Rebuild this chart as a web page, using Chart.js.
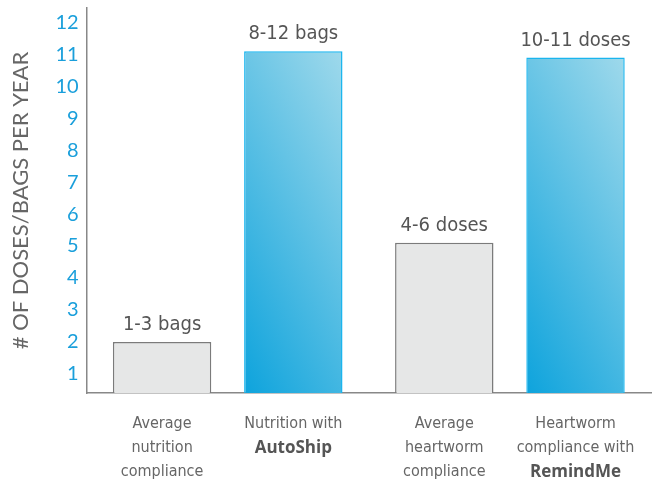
<!DOCTYPE html>
<html>
<head>
<meta charset="utf-8">
<script src="https://cdn.jsdelivr.net/npm/chart.js@4/dist/chart.umd.min.js"></script>
<style>
  html, body { margin: 0; padding: 0; background: #fff; }
  #wrap { width: 653px; height: 479px; }
</style>
</head>
<body>
<div id="wrap"><canvas id="chart"></canvas></div>
<script>
// Chart data
const groups = ['Nutrition', 'Heartworm'];
const averageValues = [2, 5.1];
const programValues = [11.1, 10.9];
const averageNotes = ['1-3 bags', '4-6 doses'];
const programNotes = ['8-12 bags', '10-11 doses'];
const averageCaptions = [['Average', 'nutrition', 'compliance'], ['Average', 'heartworm', 'compliance']];
const programCaptions = [['Nutrition with', 'AutoShip'], ['Heartworm', 'compliance with', 'RemindMe']];
const yTicks = [1, 2, 3, 4, 5, 6, 7, 8, 9, 10, 11, 12];

const narrow = '"Liberation Sans Narrow", "DejaVu Sans Condensed", sans-serif';

// Blue bars get a diagonal gradient of their own
const gradientBars = {
    id: 'gradientBars',
    beforeDatasetsDraw(chart) {
        const ctx = chart.ctx;
        chart.getDatasetMeta(1).data.forEach(bar => {
            const p = bar.getProps(['x', 'y', 'base', 'width'], true);
            const h = p.base - p.y;
            const a = 0.35 / p.width, b = 0.65 / h;
            const n = a * a + b * b;
            const left = p.x - p.width / 2;
            const g = ctx.createLinearGradient(left, p.base, left + a / n, p.base - b / n);
            g.addColorStop(0, '#0aa2dc');
            g.addColorStop(1, '#9fd9eb');
            bar.options.backgroundColor = g;
        });
    }
};

// Value notes above bars and captions below
const barText = {
    id: 'barText',
    afterDraw(chart) {
        const ctx = chart.ctx;
        ctx.save();
        ctx.textAlign = 'center';
        [[averageNotes, averageCaptions], [programNotes, programCaptions]].forEach(([notes, captions], di) => {
            chart.getDatasetMeta(di).data.forEach((bar, i) => {
                ctx.fillStyle = '#555';
                ctx.textBaseline = 'alphabetic';
                ctx.font = '20px ' + narrow;
                ctx.fillText(notes[i], bar.x, bar.y - 12);

                ctx.textBaseline = 'middle';
                const lines = captions[i];
                lines.forEach((line, li) => {
                    const bold = di === 1 && li === lines.length - 1;
                    ctx.font = bold ? 'bold 17px "Open Sans", sans-serif' : '16px ' + narrow;
                    ctx.fillStyle = bold ? '#555' : '#666';
                    ctx.fillText(line, bar.x, chart.chartArea.bottom + 31 + li * 24);
                });
            });
        });
        ctx.restore();
    }
};

const ctx = document.getElementById('chart').getContext('2d');
new Chart(ctx, {
    type: 'bar',
    data: {
        labels: groups,
        datasets: [{
            label: 'Average compliance',
            data: averageValues,
            backgroundColor: '#e6e7e7',
            borderColor: '#7b7b7b',
            borderWidth: 1.5
        }, {
            label: 'With program',
            data: programValues,
            // scriptable so each bar keeps its own options object
            backgroundColor: () => '#4ab4e2',
            borderColor: '#1ab5ee',
            borderWidth: 1.5
        }]
    },
    options: {
        responsive: true,
        maintainAspectRatio: false,
        animation: false,
        categoryPercentage: 0.93,
        barPercentage: 0.75,
        layout: { padding: { top: 8, bottom: 86, left: 8, right: 2 } },
        plugins: {
            legend: { display: false },
            tooltip: { enabled: false }
        },
        scales: {
            x: {
                grid: { display: false, drawTicks: false },
                border: { color: '#888', width: 1.5 },
                ticks: { display: false }
            },
            y: {
                min: 0.4,
                max: 12.45,
                afterBuildTicks: axis => { axis.ticks = yTicks.map(v => ({ value: v })); },
                afterFit: axis => { axis.paddingTop = 0; axis.paddingBottom = 0; },
                grid: { display: false, drawTicks: false },
                border: { color: '#888', width: 1.5 },
                ticks: {
                    color: '#1a9fdb',
                    padding: 8,
                    font: { family: 'Lato, sans-serif', size: 20 }
                },
                title: {
                    display: true,
                    text: '# OF DOSES/BAGS PER YEAR',
                    color: '#666',
                    padding: { top: 0, bottom: 13 },
                    font: { family: 'Lato, sans-serif', size: 22, weight: 400 }
                }
            }
        }
    },
    plugins: [gradientBars, barText]
});
</script>
</body>
</html>
